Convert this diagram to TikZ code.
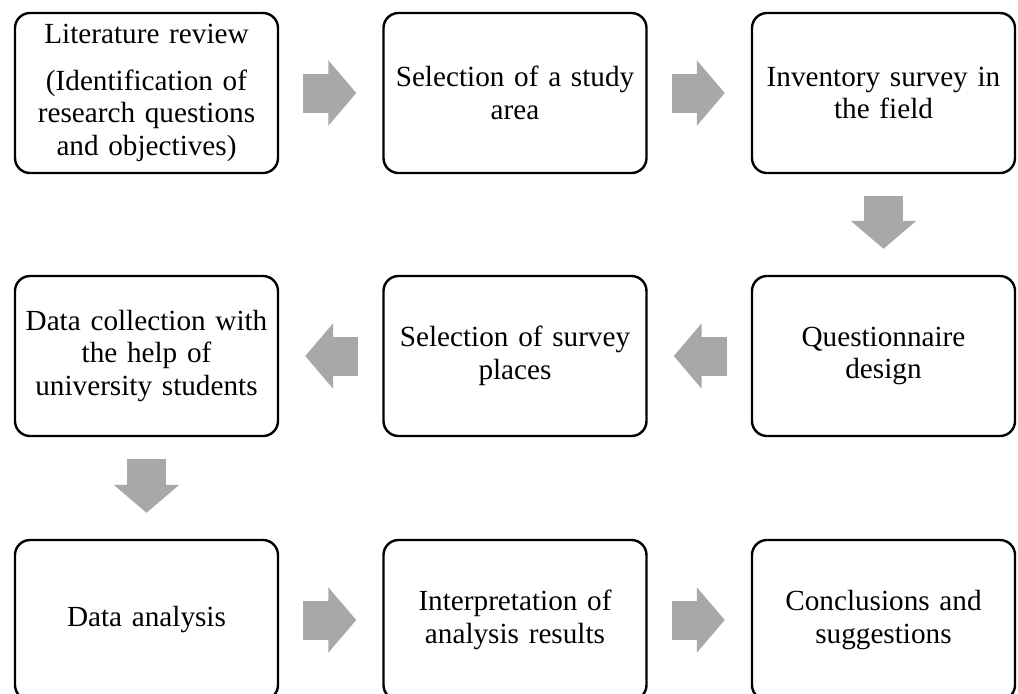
\documentclass[tikz,border=0pt]{standalone}
\usepackage{fontspec}
\setmainfont{Liberation Serif}
\usepackage{tikz}
\usetikzlibrary{arrows.meta}
\definecolor{arrowGray}{RGB}{168,168,168}

\begin{document}
\begin{tikzpicture}[x=0.5pt,y=-0.5pt]

          \tikzstyle{stageNode} = [draw, line width=1.2pt, rounded corners=7.5pt,
            minimum width=131.5pt, minimum height=80pt, inner xsep=1.5pt,
            text width=128pt, align=center, font=\fontsize{14.6}{16.4}\selectfont];
          \tikzstyle{flowEdge} = [arrowGray, line width=19.5pt,
            -{Triangle[length=14pt,width=32pt]}, shorten <=12pt, shorten >=13pt];

          \useasboundingbox (0,0) rectangle (1018,693);

          \node[stageNode] (review) at (146.5,93) {Literature review\\[7pt](Identification of\\research questions\\and objectives)};
          \node[stageNode] (area) at (515,93) {Selection of a study\\area};
          \node[stageNode] (inventory) at (883.5,93) {Inventory survey in\\the field};
          \node[stageNode] (design) at (883.5,356) {Questionnaire\\design};
          \node[stageNode] (places) at (515,356) {Selection of survey\\places};
          \node[stageNode] (collection) at (146.5,356) {Data collection with\\the help of\\university students};
          \node[stageNode] (analysis) at (146.5,620) {Data analysis};
          \node[stageNode] (interpret) at (515,620) {Interpretation of\\analysis results};
          \node[stageNode] (conclude) at (883.5,620) {Conclusions and\\suggestions};

          \draw[flowEdge] (review) -- (area);
          \draw[flowEdge] (area) -- (inventory);
          \draw[flowEdge, shorten <=11pt] (inventory) -- (design);
          \draw[flowEdge] (design) -- (places);
          \draw[flowEdge] (places) -- (collection);
          \draw[flowEdge, shorten <=11pt] (collection) -- (analysis);
          \draw[flowEdge] (analysis) -- (interpret);
          \draw[flowEdge] (interpret) -- (conclude);
        \end{tikzpicture}
\end{document}
